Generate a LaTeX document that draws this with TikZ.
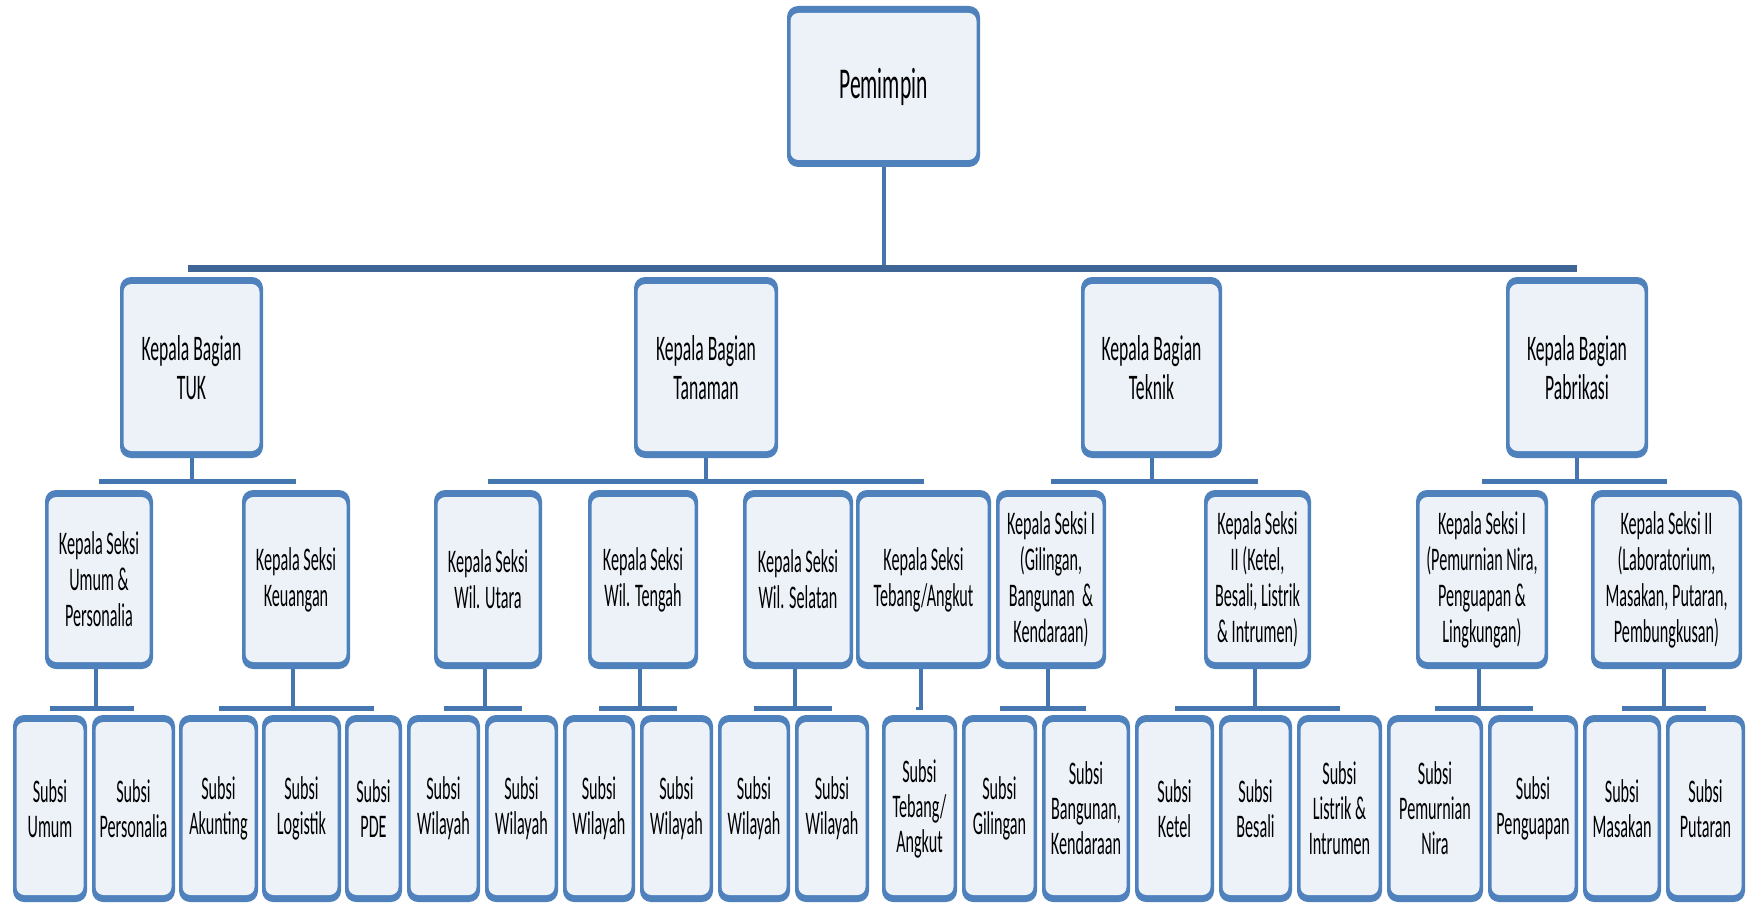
\documentclass[tikz,border=0pt]{standalone}
\usepackage{fontspec}
\setmainfont{Carlito}[FakeStretch=0.49]
\definecolor{bord}{HTML}{4F81BD}
\definecolor{fillc}{HTML}{EDF2F9}
\definecolor{linec}{HTML}{4676B0}
\definecolor{barc}{HTML}{3E6596}
\tikzset{
  orgbox/.style={rectangle, rounded corners=11pt, fill=bord, inner sep=0pt, align=center, text=black,
    path picture={\fill[fillc, rounded corners=8pt]
      ([xshift=3.5pt,yshift=-7pt]path picture bounding box.north west) rectangle
      ([xshift=-3.5pt,yshift=7pt]path picture bounding box.south east);}},
  top/.style={orgbox, minimum width=193pt, minimum height=161pt, font=\fontsize{44}{50}\selectfont},
  lvtwo/.style={orgbox, minimum height=181pt, font=\fontsize{36}{39}\selectfont},
  lvthree/.style={orgbox, minimum height=179pt, font=\fontsize{33}{36}\selectfont},
  lvfour/.style={orgbox, minimum height=187pt, font=\fontsize{33}{35}\selectfont},
  conn/.style={draw=linec, line width=4pt},
  topbar/.style={draw=barc, line width=7pt},
  hbar/.style={draw=linec, line width=5pt},
}
\begin{document}
\begin{tikzpicture}[x=1pt,y=-1pt]
\useasboundingbox[fill=white] (0,0) rectangle (1747,904);

% level 1
\node[top] (P) at (883.5,86.5) {Pemimpin};

% level 2
\node[lvtwo, minimum width=143pt] (tuk) at (191.5,367.5) {Kepala Bagian\\TUK};
\node[lvtwo, minimum width=144pt] (tan) at (706,367.5) {Kepala Bagian\\Tanaman};
\node[lvtwo, minimum width=141pt] (tek) at (1151.5,367.5) {Kepala Bagian\\Teknik};
\node[lvtwo, minimum width=142pt] (pab) at (1577,367.5) {Kepala Bagian\\Pabrikasi};

% level 3
\node[lvthree, minimum width=108pt] (umum) at (99,579.5) {Kepala Seksi\\Umum \&\\Personalia};
\node[lvthree, minimum width=108pt] (keu) at (296,579.5) {Kepala Seksi\\Keuangan};
\node[lvthree, minimum width=108pt] (uta) at (488,579.5) {Kepala Seksi\\Wil. Utara};
\node[lvthree, minimum width=110pt] (ten) at (643,579.5) {Kepala Seksi\\Wil. Tengah};
\node[lvthree, minimum width=110pt] (sel) at (798,579.5) {Kepala Seksi\\Wil. Selatan};
\node[lvthree, minimum width=135pt] (teb) at (923.5,579.5) {Kepala Seksi\\Tebang/Angkut};
\node[lvthree, minimum width=110pt] (gil) at (1051,579.5) {Kepala Seksi I\\(Gilingan,\\Bangunan ~\&\\Kendaraan)};
\node[lvthree, minimum width=107pt] (ket) at (1257.5,579.5) {Kepala Seksi\\II (Ketel,\\Besali, Listrik\\\& Intrumen)};
\node[lvthree, minimum width=132pt] (pem) at (1482,579.5) {Kepala Seksi I\\(Pemurnian Nira,\\Penguapan \&\\Lingkungan)};
\node[lvthree, minimum width=151pt] (lab) at (1666.5,579.5) {Kepala Seksi II\\(Laboratorium,\\Masakan, Putaran,\\Pembungkusan)};

% level 4
\node[lvfour, minimum width=74pt] (s1) at (50,808.5) {Subsi\\Umum};
\node[lvfour, minimum width=83pt] (s2) at (133.5,808.5) {Subsi\\Personalia};
\node[lvfour, minimum width=79pt] (s3) at (218.5,808.5) {Subsi\\Akunting};
\node[lvfour, minimum width=79pt] (s4) at (301.5,808.5) {Subsi\\Logistik};
\node[lvfour, minimum width=57pt] (s5) at (373.5,808.5) {Subsi\\PDE};
\node[lvfour, minimum width=73pt] (s6) at (443.5,808.5) {Subsi\\Wilayah};
\node[lvfour, minimum width=73pt] (s7) at (521.5,808.5) {Subsi\\Wilayah};
\node[lvfour, minimum width=72pt] (s8) at (599,808.5) {Subsi\\Wilayah};
\node[lvfour, minimum width=73pt] (s9) at (676.5,808.5) {Subsi\\Wilayah};
\node[lvfour, minimum width=72pt] (s10) at (754,808.5) {Subsi\\Wilayah};
\node[lvfour, minimum width=74pt] (s11) at (832,808.5) {Subsi\\Wilayah};
\node[lvfour, minimum width=75pt] (s12) at (919.5,808.5) {Subsi\\Tebang/\\Angkut};
\node[lvfour, minimum width=75pt] (s13) at (999.5,808.5) {Subsi\\Gilingan};
\node[lvfour, minimum width=88pt] (s14) at (1086,808.5) {Subsi\\Bangunan,\\Kendaraan};
\node[lvfour, minimum width=79pt] (s15) at (1174.5,808.5) {Subsi\\Ketel};
\node[lvfour, minimum width=73pt] (s16) at (1255.5,808.5) {Subsi\\Besali};
\node[lvfour, minimum width=85pt] (s17) at (1339.5,808.5) {Subsi\\Listrik \&\\Intrumen};
\node[lvfour, minimum width=96pt] (s18) at (1435,808.5) {Subsi\\Pemurnian\\Nira};
\node[lvfour, minimum width=90pt] (s19) at (1533,808.5) {Subsi\\Penguapan};
\node[lvfour, minimum width=78pt] (s20) at (1622,808.5) {Subsi\\Masakan};
\node[lvfour, minimum width=79pt] (s21) at (1705.5,808.5) {Subsi\\Putaran};

% level 1 -> 2
\draw[conn] (P.south) -- (P.south |- 0,268.5);
\draw[topbar] (tuk.north |- 0,268.5) ++(-4,0) -- (pab.north |- 0,268.5);

% level 2 -> 3
\foreach \a/\b/\c in {tuk/umum/keu, tan/uta/teb, tek/gil/ket, pab/pem/lab}{
  \draw[conn] (\a.south) -- (\a.south |- 0,481);
  \draw[hbar] (\b.north |- 0,481) -- (\c.north |- 0,481);
}

% level 3 -> 4
\foreach \a/\b/\c in {umum/s1/s2, keu/s3/s5, uta/s6/s7, ten/s8/s9, sel/s10/s11, gil/s13/s14, ket/s15/s17, pem/s18/s19, lab/s20/s21}{
  \draw[conn] ([xshift=-3pt]\a.south) -- ([xshift=-3pt]\a.south |- 0,708);
  \draw[hbar] (\b.north |- 0,708) -- (\c.north |- 0,708);
}
\draw[conn] ([xshift=-3pt]teb.south) -- ([xshift=-3pt]teb.south |- 0,708);
\draw[draw=linec, line width=3pt] ([xshift=-1pt]teb.south |- 0,708) -- ([xshift=-8pt]teb.south |- 0,708);
\end{tikzpicture}
\end{document}
